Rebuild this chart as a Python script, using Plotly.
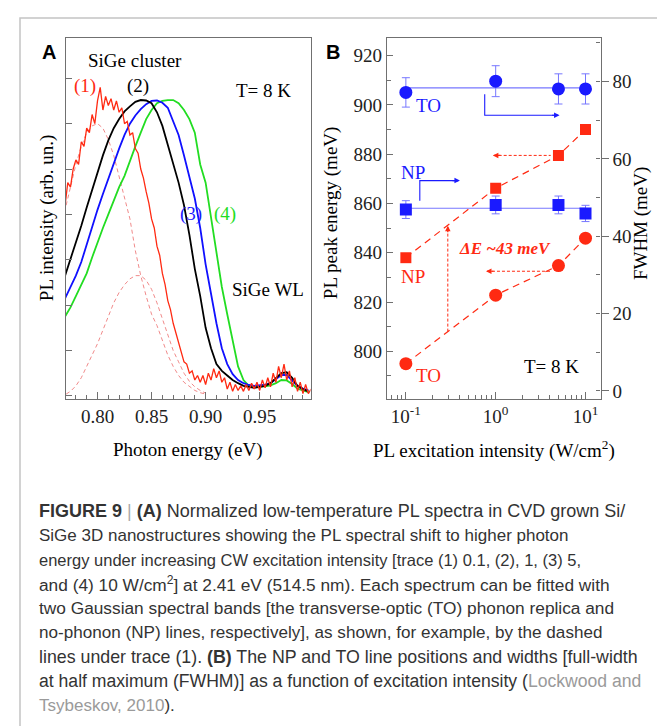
import math
import plotly.graph_objects as go

W, H = 665, 726
def px(x): return x / W
def py(y): return 1 - y / H

# ---------------- Panel A data ----------------
red_int = [0.42, 0.47, 0.46, 0.50, 0.52, 0.51, 0.56, 0.55, 0.59, 0.58,
           0.62, 0.60, 0.65, 0.68, 0.63, 0.66, 0.64, 0.655, 0.63, 0.65,
           0.625, 0.635, 0.60, 0.605, 0.575, 0.58, 0.545, 0.535, 0.50, 0.48,
           0.45, 0.425, 0.39, 0.37, 0.33, 0.31, 0.27, 0.245, 0.21, 0.19,
           0.16, 0.14, 0.115, 0.10, 0.075, 0.07, 0.05, 0.055, 0.035, 0.045,
           0.03, 0.045, 0.025, 0.05, 0.035, 0.06, 0.04, 0.055, 0.03, 0.04,
           0.015, 0.03, 0.01, 0.025, 0.012, 0.022, 0.01, 0.025, 0.012, 0.028,
           0.015, 0.03, 0.012, 0.035, 0.018, 0.04, 0.02, 0.05, 0.03, 0.065,
           0.04, 0.07, 0.035, 0.055, 0.02, 0.04, 0.01, 0.03, 0.005, 0.025,
           0.005, 0.015]
red_ev = [round(0.77 + 0.0025 * i, 4) for i in range(len(red_int))]

black_int = [0.265, 0.30, 0.34, 0.375, 0.415, 0.455, 0.495, 0.53, 0.563, 0.59,
             0.61, 0.627, 0.638, 0.648, 0.652, 0.651, 0.645, 0.625, 0.595, 0.555,
             0.51, 0.47, 0.42, 0.355, 0.28, 0.22, 0.15, 0.105, 0.07, 0.055,
             0.045, 0.035, 0.028, 0.022, 0.02, 0.018, 0.02, 0.022, 0.028, 0.04,
             0.05, 0.052, 0.04, 0.022, 0.015, 0.01]
blue_int = [0.215, 0.24, 0.265, 0.295, 0.335, 0.37, 0.41, 0.445, 0.48, 0.51,
            0.545, 0.575, 0.60, 0.618, 0.632, 0.643, 0.65, 0.651, 0.646, 0.635,
            0.605, 0.575, 0.53, 0.48, 0.435, 0.37, 0.29, 0.225, 0.16, 0.105,
            0.07, 0.048, 0.035, 0.028, 0.024, 0.022, 0.023, 0.025, 0.028, 0.036,
            0.046, 0.046, 0.035, 0.022, 0.016, 0.012]
green_int = [0.175, 0.195, 0.22, 0.245, 0.27, 0.305, 0.34, 0.37, 0.40, 0.43,
             0.46, 0.485, 0.52, 0.55, 0.58, 0.61, 0.63, 0.645, 0.65, 0.652,
             0.652, 0.645, 0.63, 0.61, 0.58, 0.51, 0.47, 0.395, 0.325, 0.24,
             0.18, 0.12, 0.065, 0.035, 0.022, 0.02, 0.02, 0.021, 0.023, 0.028,
             0.035, 0.034, 0.026, 0.016, 0.012, 0.008]
ev5 = [round(0.77 + 0.005 * i, 3) for i in range(len(black_int))]

to_fit_ev = [0.771, 0.775, 0.78, 0.785, 0.79, 0.795, 0.80, 0.805, 0.81, 0.815,
             0.82, 0.825, 0.83, 0.835, 0.84, 0.845, 0.85, 0.855, 0.86, 0.865,
             0.87, 0.875, 0.88, 0.885, 0.89, 0.895, 0.90]
to_fit_int = [0.42, 0.46, 0.51, 0.55, 0.58, 0.595, 0.60, 0.59, 0.565, 0.53,
              0.485, 0.44, 0.39, 0.32, 0.265, 0.22, 0.18, 0.155, 0.12, 0.09,
              0.065, 0.045, 0.03, 0.02, 0.012, 0.007, 0.004]
np_fit_ev = to_fit_ev
np_fit_int = [0.004, 0.01, 0.022, 0.04, 0.065, 0.09, 0.115, 0.145, 0.175, 0.205,
              0.228, 0.245, 0.258, 0.265, 0.265, 0.255, 0.235, 0.205, 0.17, 0.135,
              0.10, 0.075, 0.05, 0.032, 0.02, 0.012, 0.006]

# ---------------- Panel B data ----------------
intensity = [0.1, 1, 5, 10]
np_energy = [838, 866.2, 879.5, 890]
to_energy = [795, 822.8, 834.8, 845.9]
to_fwhm = [77.2, 80.1, 78.1, 78.1]
to_fwhm_err = [3.8, 4.0, 3.9, 3.9]
np_fwhm = [46.9, 48.1, 48.1, 45.9]
np_fwhm_err = [2.3, 2.3, 2.3, 2.1]
xtick_vals = [0.1, 1, 10]
xtick_text = ["10<sup>-1</sup>", "10<sup>0</sup>", "10<sup>1</sup>"]

RED = "#ff2a12"
BLUE = "#1a1aff"
LBLUE = "#7777ff"
GREEN = "#22dd22"
SERIF = "Liberation Serif"
AX = "#707070"

fig = go.Figure()

# Panel A traces
fig.add_trace(go.Scatter(x=to_fit_ev, y=to_fit_int, mode="lines",
                         line=dict(color="#f08a8a", width=1, dash="4px,3px"), xaxis="x", yaxis="y"))
fig.add_trace(go.Scatter(x=np_fit_ev, y=np_fit_int, mode="lines",
                         line=dict(color="#f08a8a", width=1, dash="4px,3px"), xaxis="x", yaxis="y"))
fig.add_trace(go.Scatter(x=ev5, y=green_int, mode="lines", line=dict(color=GREEN, width=1.8)))
fig.add_trace(go.Scatter(x=ev5, y=blue_int, mode="lines", line=dict(color="#1010ff", width=1.8)))
fig.add_trace(go.Scatter(x=ev5, y=black_int, mode="lines", line=dict(color="black", width=1.8)))
fig.add_trace(go.Scatter(x=red_ev, y=red_int, mode="lines", line=dict(color=RED, width=1.3)))

# Panel B traces
to_mean = sum(to_fwhm) / len(to_fwhm)
np_mean = sum(np_fwhm) / len(np_fwhm)
fig.add_trace(go.Scatter(x=[intensity[0], intensity[-1]], y=[to_mean, to_mean], mode="lines",
                         line=dict(color=LBLUE, width=1.2), xaxis="x2", yaxis="y3"))
fig.add_trace(go.Scatter(x=[intensity[0], intensity[-1]], y=[np_mean, np_mean], mode="lines",
                         line=dict(color=LBLUE, width=1.2), xaxis="x2", yaxis="y3"))
fig.add_trace(go.Scatter(x=intensity, y=to_fwhm, mode="markers",
                         marker=dict(symbol="circle", size=13, color=BLUE),
                         error_y=dict(type="data", array=to_fwhm_err, color=LBLUE, thickness=1, width=4),
                         xaxis="x2", yaxis="y3"))
fig.add_trace(go.Scatter(x=intensity, y=np_fwhm, mode="markers",
                         marker=dict(symbol="square", size=12, color=BLUE),
                         error_y=dict(type="data", array=np_fwhm_err, color=LBLUE, thickness=1, width=4),
                         xaxis="x2", yaxis="y3"))
fig.add_trace(go.Scatter(x=intensity, y=np_energy, mode="lines+markers",
                         line=dict(color=RED, width=1.2, dash="7px,5px"),
                         marker=dict(symbol="square", size=11, color=RED),
                         xaxis="x2", yaxis="y2"))
fig.add_trace(go.Scatter(x=intensity, y=to_energy, mode="lines+markers",
                         line=dict(color=RED, width=1.2, dash="7px,5px"),
                         marker=dict(symbol="circle", size=13, color=RED),
                         xaxis="x2", yaxis="y2"))

# arrows (decorations)
vx = 0.293
fig.add_trace(go.Scatter(x=[vx, vx], y=[808, 849], mode="lines",
                         line=dict(color=RED, width=1, dash="3px,2px"), xaxis="x2", yaxis="y2"))
fig.add_trace(go.Scatter(x=[0.95, 4.1], y=[879.5, 879.5], mode="lines",
                         line=dict(color=RED, width=1, dash="3px,2px"), xaxis="x2", yaxis="y2"))
fig.add_trace(go.Scatter(x=[0.8, 4.1], y=[832.5, 832.5], mode="lines",
                         line=dict(color=RED, width=1, dash="3px,2px"), xaxis="x2", yaxis="y2"))
fig.add_trace(go.Scatter(x=[0.755, 0.755, 4.9], y=[76.7, 71.3, 71.3], mode="lines",
                         line=dict(color=BLUE, width=1.1), xaxis="x2", yaxis="y3"))
fig.add_trace(go.Scatter(x=[0.143, 0.143, 0.38], y=[49.2, 54.4, 54.4], mode="lines",
                         line=dict(color=BLUE, width=1.1), xaxis="x2", yaxis="y3"))

annotations = []
def arrowhead(x, y, xref, yref, axp, ayp, color):
    annotations.append(dict(x=math.log10(x), y=y, xref=xref, yref=yref, ax=axp, ay=ayp,
                            showarrow=True, arrowhead=2, arrowsize=1, arrowwidth=1.1,
                            arrowcolor=color, text=""))
arrowhead(vx, 851, "x2", "y2", 0, 8, RED)
arrowhead(0.93, 879.5, "x2", "y2", 9, 0, RED)
arrowhead(0.78, 832.5, "x2", "y2", 9, 0, RED)
arrowhead(5.14, 71.3, "x2", "y3", -9, 0, BLUE)
arrowhead(0.40, 54.4, "x2", "y3", -9, 0, BLUE)

def txt(x, y, text, size=19, color="black", font=SERIF, angle=0, xanchor="center"):
    annotations.append(dict(x=px(x), y=py(y), xref="paper", yref="paper", text=text,
                            showarrow=False, xanchor=xanchor, yanchor="middle",
                            textangle=angle, font=dict(family=font, size=size, color=color)))

# panel A labels
txt(41, 44, "<b>A</b>", size=20, font="Liberation Sans")
txt(325, 44, "<b>B</b>", size=20, font="Liberation Sans")
txt(127, 53, "SiGe cluster")
txt(77, 78, "(1)", color=RED)
txt(130, 78, "(2)")
txt(255, 83, "T= 8 K")
txt(183, 207, "(3)", color=BLUE)
txt(217, 207, "(4)", color=GREEN)
txt(260, 283, "SiGe WL")
txt(39, 211, "PL intensity (arb. un.)", angle=-90)
txt(180, 444, "Photon energy (eV)")

# panel B labels
txt(420, 98, "TO", color=BLUE)
txt(405, 165, "NP", color=BLUE)
txt(405, 270, "NP", color=RED)
txt(420, 369, "TO", color=RED)
txt(497, 242, "<b><i>ΔE ~43 meV</i></b>", size=17, color=RED)
txt(543, 360, "T= 8 K")
txt(323, 206, "PL peak energy (meV)", angle=-90)
txt(633, 217, "FWHM (meV)", angle=-90)
txt(486, 443, "PL excitation intensity (W/cm<sup>2</sup>)")

# caption
caption_lines = [
    "<b>FIGURE 9</b> <span style='color:#aaaaaa'>|</span> <b>(A)</b> Normalized low-temperature PL spectra in CVD grown Si/",
    "SiGe 3D nanostructures showing the PL spectral shift to higher photon",
    "energy under increasing CW excitation intensity [trace (1) 0.1, (2), 1, (3) 5,",
    "and (4) 10 W/cm<sup>2</sup>] at 2.41 eV (514.5 nm). Each spectrum can be fitted with",
    "two Gaussian spectral bands [the transverse-optic (TO) phonon replica and",
    "no-phonon (NP) lines, respectively], as shown, for example, by the dashed",
    "lines under trace (1). <b>(B)</b> The NP and TO line positions and widths [full-width",
    "at half maximum (FWHM)] as a function of excitation intensity (<span style='color:#9a9a9a'>Lockwood and</span>",
    "<span style='color:#9a9a9a'>Tsybeskov, 2010</span>).",
]
caption_sizes = [18.0, 17.0, 16.5, 17.3, 17.3, 17.1, 17.8, 17.6, 17.0]
for i, line in enumerate(caption_lines):
    txt(29, 505 + 24.4 * i, line, size=caption_sizes[i], color="#333333",
        font="Liberation Sans", xanchor="left")

shapes = [dict(type="rect", xref="paper", yref="paper", x0=px(12), x1=px(662), y0=py(800), y1=py(10),
               line=dict(color="#c4c4c4", width=1.5), fillcolor="rgba(0,0,0,0)", layer="below")]

tickfont = dict(family=SERIF, size=19, color="#222")
ydom = [py(392.5), py(30)]
fig.update_layout(
    width=W, height=H, margin=dict(l=0, r=0, t=0, b=0),
    paper_bgcolor="white", plot_bgcolor="white", showlegend=False,
    annotations=annotations, shapes=shapes,
    xaxis=dict(domain=[px(57.5), px(302.5)], anchor="y", range=[0.7704, 0.997],
               showline=True, mirror=True, linecolor=AX, linewidth=1.2, showgrid=False, zeroline=False,
               ticks="inside", ticklen=7, tickcolor=AX, tick0=0.8, dtick=0.05, tickformat=".2f",
               tickfont=tickfont, minor=dict(dtick=0.01, ticks="inside", ticklen=4, tickcolor=AX)),
    yaxis=dict(domain=ydom, anchor="x", range=[-0.0066, 0.789],
               showline=True, mirror=True, linecolor=AX, linewidth=1.2, showgrid=False, zeroline=False,
               ticks="inside", ticklen=6, tickcolor=AX, tick0=0, dtick=0.1, showticklabels=False),
    xaxis2=dict(domain=[px(379), px(592.5)], anchor="y2", type="log", range=[-1.21, 1.167],
                showline=True, mirror=True, linecolor=AX, linewidth=1.2, showgrid=False, zeroline=False,
                ticks="inside", ticklen=7, tickcolor=AX, tickmode="array", tickvals=xtick_vals,
                ticktext=xtick_text, tickfont=tickfont,
                minor=dict(tickmode="linear", dtick="D1", ticks="inside", ticklen=4,
                           tickcolor=AX, showgrid=False)),
    yaxis2=dict(domain=ydom, anchor="x2", range=[780.7, 927.2],
                showline=True, linecolor=AX, linewidth=1.2, showgrid=False, zeroline=False,
                ticks="inside", ticklen=6, tickcolor=AX, dtick=20, tick0=800, tickfont=tickfont,
                minor=dict(dtick=10, ticks="inside", ticklen=4, tickcolor=AX)),
    yaxis3=dict(overlaying="y2", anchor="x2", side="right", range=[-2.05, 91.3],
                showline=True, linecolor=AX, linewidth=1.2, showgrid=False, zeroline=False,
                ticks="outside", ticklen=7, tickcolor=AX, dtick=20, tick0=0, tickfont=tickfont,
                minor=dict(dtick=10, ticks="inside", ticklen=4, tickcolor=AX)),
)

fig.write_html("out.html")
